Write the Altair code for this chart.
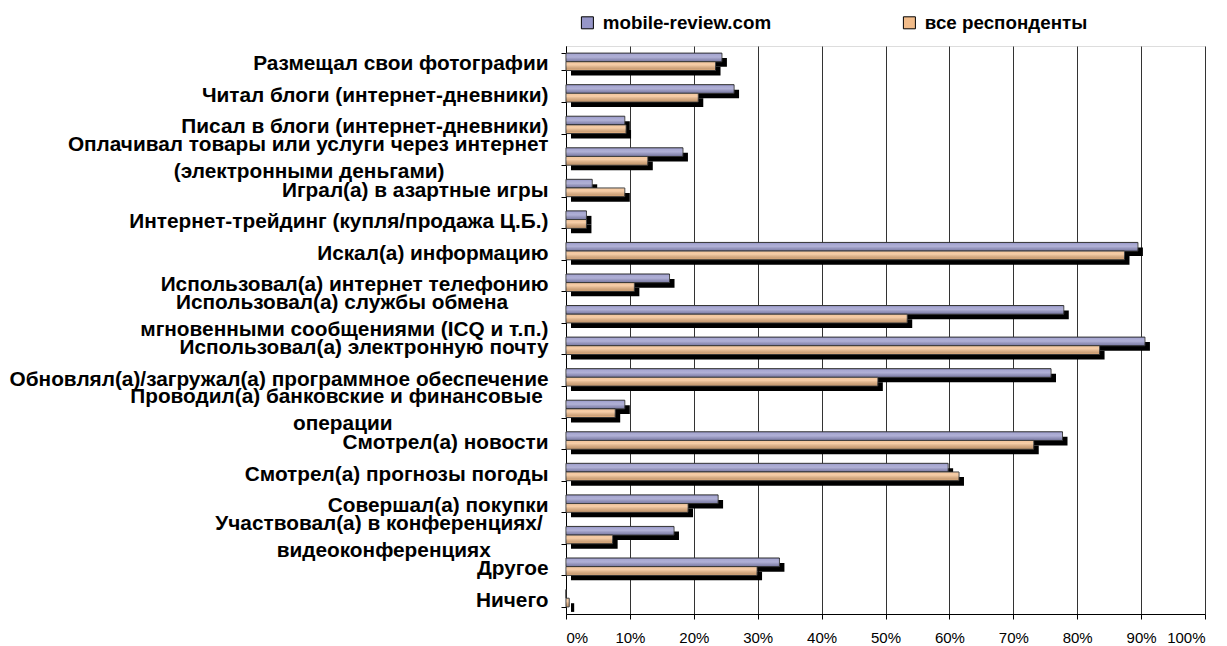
import altair as alt
import pandas as pd

categories = [
    "Размещал свои фотографии",
    "Читал блоги (интернет-дневники)",
    "Писал в блоги (интернет-дневники)",
    "Оплачивал товары или услуги через интернет|(электронными деньгами)",
    "Играл(а) в азартные игры",
    "Интернет-трейдинг (купля/продажа Ц.Б.)",
    "Искал(а) информацию",
    "Использовал(а) интернет телефонию",
    "Использовал(а) службы обмена|мгновенными сообщениями (ICQ и т.п.)",
    "Использовал(а) электронную почту",
    "Обновлял(а)/загружал(а) программное обеспечение",
    "Проводил(а) банковские и финансовые|операции",
    "Смотрел(а) новости",
    "Смотрел(а) прогнозы погоды",
    "Совершал(а) покупки",
    "Участвовал(а) в конференциях/|видеоконференциях",
    "Другое",
    "Ничего",
]
series_names = ["mobile-review.com", "все респонденты"]
mobile_review = [24.4, 26.3, 9.2, 18.3, 4.1, 3.2, 89.5, 16.2, 77.9, 90.6,
                 75.9, 9.2, 77.7, 59.8, 23.8, 16.9, 33.4, 0.0]
all_respondents = [23.4, 20.7, 9.4, 12.8, 9.2, 3.2, 87.4, 10.7, 53.4, 83.5,
                   48.8, 7.7, 73.2, 61.5, 19.1, 7.3, 29.9, 0.5]
x_ticks = [0, 10, 20, 30, 40, 50, 60, 70, 80, 90, 100]
colors = ["#9696c8", "#f2bc8a"]

# wrapped labels are centred line-by-line (as in the original); emulate with
# non-breaking-space padding after the shorter line (a zero-width space at the
# end keeps the padding from being trimmed)
line_indent = {
    "(электронными деньгами)": 18,
    "Использовал(а) службы обмена": 7,
    "Проводил(а) банковские и финансовые": 1,
    "операции": 27,
    "Участвовал(а) в конференциях/": 1,
    "видеоконференциях": 10,
}


def display_label(cat):
    out = []
    for line in cat.split("|"):
        n = line_indent.get(line, 0)
        out.append(line + ("\u00a0" * n + "\u200b" if n else ""))
    return "|".join(out)


labels = [display_label(c) for c in categories]

rows = []
for c, a, b in zip(labels, mobile_review, all_respondents):
    rows.append({"category": c, "series": series_names[0], "value": a})
    rows.append({"category": c, "series": series_names[1], "value": b})
df = pd.DataFrame(rows)

FONT = "Liberation Sans"
BW = 17.36

y_enc = alt.Y(
    "category:N", sort=labels, title=None,
    scale=alt.Scale(paddingInner=0.45, paddingOuter=0.225),
    axis=alt.Axis(
        labelExpr="split(datum.label, '|')",
        labelFont=FONT, labelFontSize=20.8, labelFontWeight="bold",
        labelColor="black", labelLineHeight=27, labelPadding=13,
        labelLimit=0,
        labelOffset={"condition": {"test": "indexof(datum.label, '|') >= 0",
                                   "value": -12}, "value": 2},
        tickSize=5, tickBand="extent",
        tickColor="black", domainColor="black", grid=False,
    ),
)
x_enc = alt.X(
    "value:Q", title=None,
    scale=alt.Scale(domain=[0, 100], nice=False),
    axis=alt.Axis(
        values=x_ticks, labelExpr="datum.value + '%'",
        labelFont=FONT, labelFontSize=15, labelColor="black",
        labelPadding=11, tickSize=5, tickColor="black",
        domainColor="black", grid=True, gridColor="#333333",
    ),
)

base = alt.Chart(df)

shadow = base.mark_bar(color="black", xOffset=5, x2Offset=5).encode(
    x=x_enc, y=y_enc,
    yOffset=alt.YOffset("series:N", sort=series_names,
                        scale=alt.Scale(range=[5, BW + 5])),
)

bars = base.mark_bar(stroke="#333333", strokeWidth=1).encode(
    x=x_enc, y=y_enc,
    yOffset=alt.YOffset("series:N", sort=series_names,
                        scale=alt.Scale(range=[0, BW])),
    color=alt.Color(
        "series:N", sort=series_names,
        scale=alt.Scale(domain=series_names, range=colors),
        legend=alt.Legend(
            orient="none", legendX=12, legendY=-33, direction="horizontal",
            title=None, symbolType="square", symbolSize=144,
            symbolStrokeColor="black", symbolStrokeWidth=1,
            labelFont=FONT, labelFontSize=18.8, labelFontWeight="bold",
            labelColor="black", labelOffset=6, columnPadding=128,
            labelLimit=0,
        ),
    ),
)

shine = base.mark_bar(
    color=alt.Gradient(
        gradient="linear", x1=0, y1=0, x2=0, y2=1,
        stops=[
            alt.GradientStop(color="rgba(255,255,255,0.15)", offset=0),
            alt.GradientStop(color="rgba(255,255,255,0.25)", offset=0.4),
            alt.GradientStop(color="rgba(0,0,0,0.18)", offset=1),
        ],
    )
).encode(
    x=x_enc, y=y_enc,
    yOffset=alt.YOffset("series:N", sort=series_names,
                        scale=alt.Scale(range=[1, BW - 1])),
)

chart = (
    alt.layer(shadow, bars, shine)
    .resolve_scale(yOffset="independent")
    .properties(
        width=639, height=568,
        autosize=alt.AutoSizeParams(type="none"),
        padding={"left": 558, "top": 38, "right": 14, "bottom": 30},
    )
    .configure_view(stroke="#c0c0c0")
    .configure(background="white")
)

chart.save("out.html", embed_options={"renderer": "svg", "actions": False})
